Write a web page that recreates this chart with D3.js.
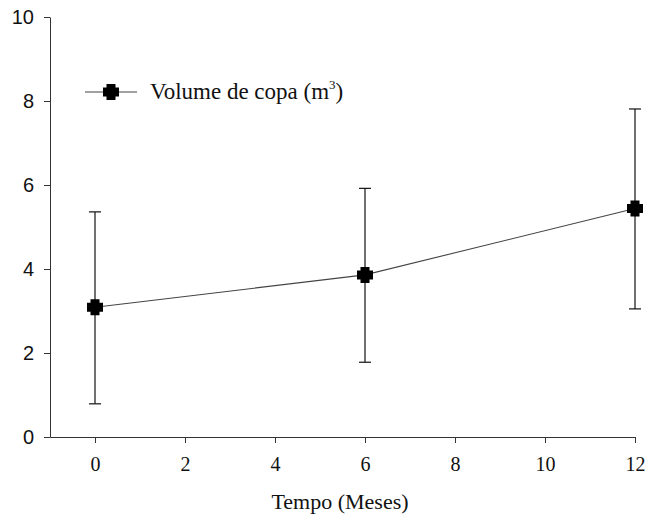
<!DOCTYPE html>
<html>
<head>
<meta charset="utf-8">
<script src="https://cdn.jsdelivr.net/npm/d3@7"></script>
<style>
  html, body { margin: 0; padding: 0; background: #fff; }
  svg { display: block; }
</style>
</head>
<body>
<svg id="chart" width="654" height="515"></svg>
<script>
// Crown volume over time (mean with error range)
const months = [0, 6, 12];
const volume = [3.09, 3.86, 5.44];
const errLow = [0.79, 1.78, 3.05];
const errHigh = [5.36, 5.92, 7.81];
const xTicks = [0, 2, 4, 6, 8, 10, 12];
const yTicks = [0, 2, 4, 6, 8, 10];
const seriesName = "Volume de copa (m";
const xTitle = "Tempo (Meses)";

const svg = d3.select("#chart");
const x = d3.scaleLinear().domain([-1, 12]).range([50, 635]);
const y = d3.scaleLinear().domain([0, 10]).range([437, 17]);

const axisColor = "#333";

// y axis
const gy = svg.append("g").attr("transform", `translate(${x(-1)},0)`)
  .call(d3.axisLeft(y).tickValues(yTicks).tickSize(6).tickPadding(10).tickSizeOuter(0));
gy.select(".domain").attr("stroke", axisColor);
gy.selectAll(".tick line").attr("stroke", axisColor);
gy.selectAll(".tick text").attr("font-family", "Liberation Sans, Arial, sans-serif")
  .attr("font-size", 20).attr("fill", "#111");

// x axis
const gx = svg.append("g").attr("transform", `translate(0,${y(0)})`)
  .call(d3.axisBottom(x).tickValues(xTicks).tickSize(6).tickPadding(14).tickSizeOuter(0));
gx.select(".domain").attr("stroke", axisColor);
gx.selectAll(".tick line").attr("stroke", axisColor);
gx.selectAll(".tick text").attr("font-family", "Liberation Serif, Times New Roman, serif")
  .attr("font-size", 20).attr("fill", "#111");

svg.append("text")
  .attr("x", 340).attr("y", 509)
  .attr("text-anchor", "middle")
  .attr("font-family", "Liberation Serif, Times New Roman, serif")
  .attr("font-size", 22).attr("fill", "#111")
  .text(xTitle);

// cross-shaped marker
function crossPath(cx, cy) {
  const a = 8, b = 4.5;
  return `M${cx - b},${cy - a}H${cx + b}V${cy - b}H${cx + a}V${cy + b}H${cx + b}V${cy + a}H${cx - b}V${cy + b}H${cx - a}V${cy - b}H${cx - b}Z`;
}

const data = months.map((m, i) => ({ m, v: volume[i], lo: errLow[i], hi: errHigh[i] }));

// error bars
const eb = svg.append("g").attr("stroke", "#111").attr("stroke-width", 1.2);
data.forEach(d => {
  eb.append("line").attr("x1", x(d.m)).attr("x2", x(d.m)).attr("y1", y(d.lo)).attr("y2", y(d.hi));
  eb.append("line").attr("x1", x(d.m) - 6).attr("x2", x(d.m) + 6).attr("y1", y(d.lo)).attr("y2", y(d.lo));
  eb.append("line").attr("x1", x(d.m) - 6).attr("x2", x(d.m) + 6).attr("y1", y(d.hi)).attr("y2", y(d.hi));
});

// connecting line
svg.append("path").datum(data)
  .attr("fill", "none").attr("stroke", "#444").attr("stroke-width", 1.1)
  .attr("d", d3.line().x(d => x(d.m)).y(d => y(d.v)));

// markers
svg.append("g").selectAll("path").data(data).join("path")
  .attr("d", d => crossPath(x(d.m), y(d.v)))
  .attr("fill", "#000");

// legend
const lg = svg.append("g");
lg.append("line").attr("x1", 85).attr("x2", 137).attr("y1", 92).attr("y2", 92)
  .attr("stroke", "#444").attr("stroke-width", 1.1);
lg.append("path").attr("d", crossPath(111, 92)).attr("fill", "#000");
const lt = lg.append("text").attr("x", 150).attr("y", 99)
  .attr("font-family", "Liberation Serif, Times New Roman, serif")
  .attr("font-size", 23).attr("fill", "#111");
lt.append("tspan").text(seriesName);
lt.append("tspan").attr("font-size", 13).attr("dy", -10).text("3");
lt.append("tspan").attr("dy", 10).text(")");
</script>
</body>
</html>
